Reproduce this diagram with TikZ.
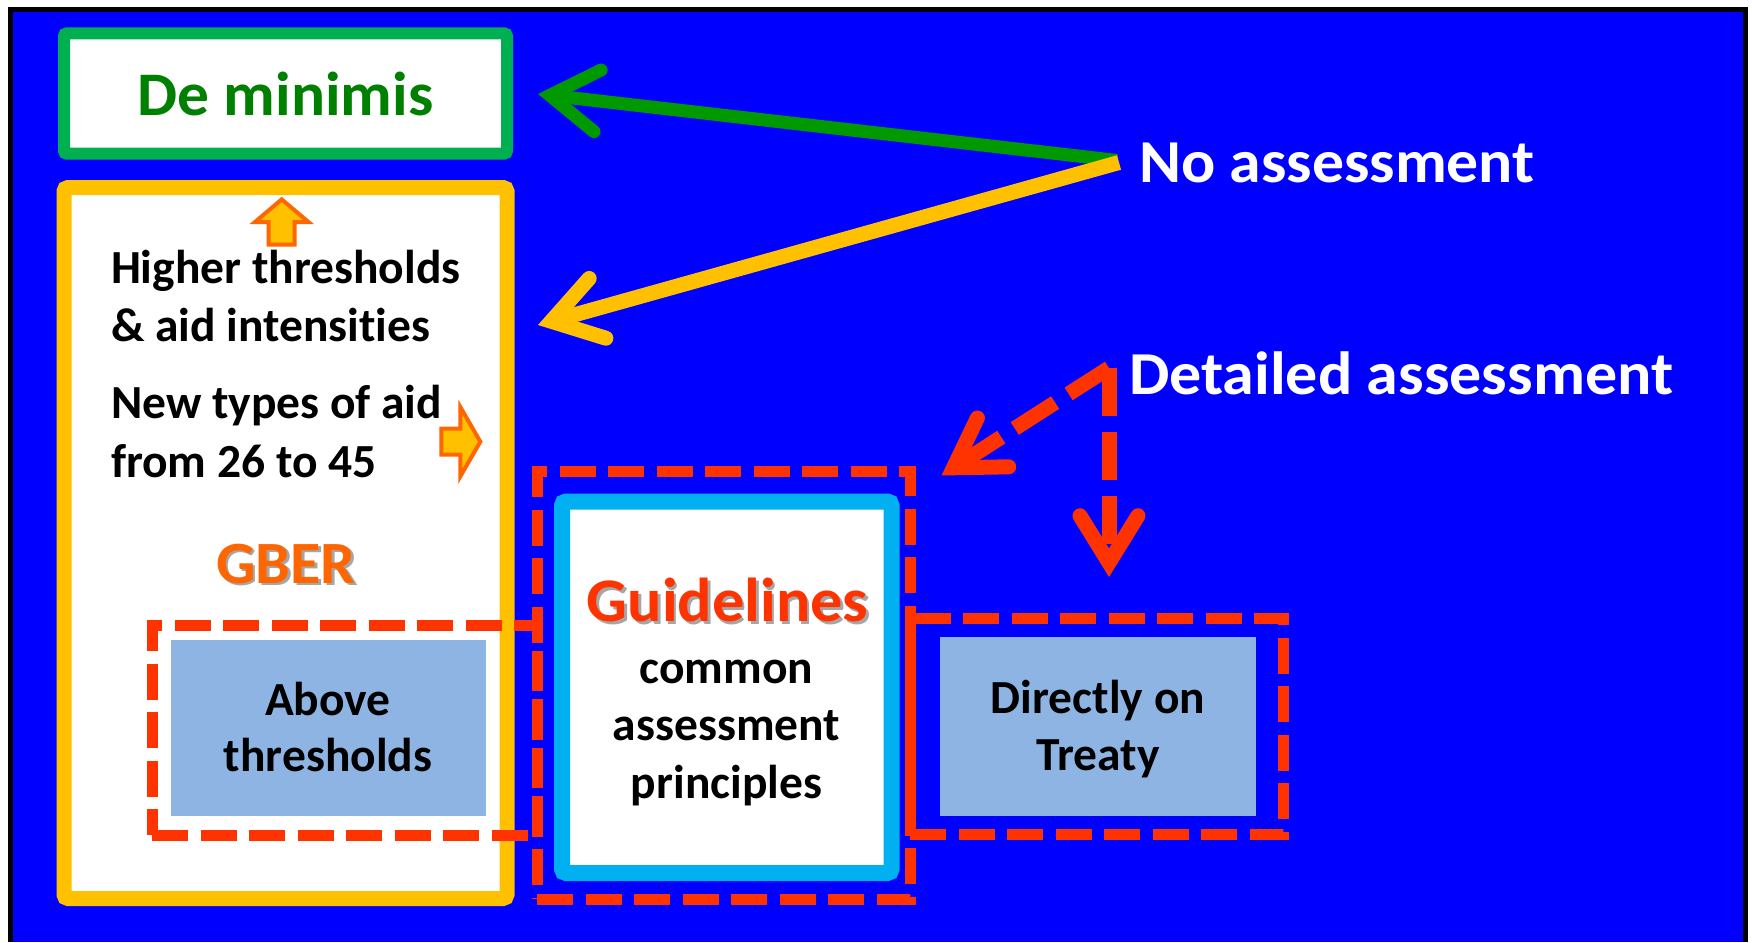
\documentclass[tikz,border=0pt]{standalone}
\usepackage{fontspec}
\setmainfont{Carlito}[Ligatures=NoCommon]
\usetikzlibrary{arrows.meta}
\definecolor{bgblue}{HTML}{0000FF}
\definecolor{dmgreen}{HTML}{00B050}
\definecolor{dmtext}{HTML}{008000}
\definecolor{arrgreen}{HTML}{009900}
\definecolor{gold}{HTML}{FFC000}
\definecolor{orng}{HTML}{FF6600}
\definecolor{redd}{HTML}{FF3300}
\definecolor{cyanb}{HTML}{00B0F0}
\definecolor{lblue}{HTML}{8EB4E3}
\newfontfamily\wideA{Carlito}[Ligatures=NoCommon,FakeStretch=1.025]
\newfontfamily\wideB{Carlito}[Ligatures=NoCommon,FakeStretch=1.035]
\newfontfamily\wideC{Carlito}[Ligatures=NoCommon,FakeStretch=1.045]
\newfontfamily\wideD{Carlito}[Ligatures=NoCommon,FakeStretch=1.05]
\begin{document}
\begin{tikzpicture}[x=1pt,y=-1pt,
  every node/.style={inner sep=0pt,outer sep=0pt},
  body/.style={font=\bfseries\fontsize{47.5}{57}\selectfont,text=black},
  dashbox/.style={draw=redd,line width=11pt,dash pattern=on 36pt off 12.5pt},
  lightbox/.style={fill=lblue},
  blockarrow/.style={fill=gold,draw=orng,line width=4pt,line join=miter},
  barb/.style={-{Straight Barb[length=48pt,width=62pt,line cap=round,line join=miter]}},
  redbarb/.style={-{Straight Barb[length=47pt,width=58pt,line cap=round,line join=miter]}},
  shadowtext/.style={text=black,opacity=0.35},
]
\useasboundingbox (0,0) rectangle (1752,942);
\fill[white] (0,0) rectangle (1752,942);
\fill[bgblue] (10.5,9.5) rectangle (1745.5,942);
\draw[line width=5pt,line join=miter] (10.5,942) -- (10.5,9.5) -- (1745.5,9.5) -- (1745.5,942);

\node[draw=dmgreen,line width=12pt,fill=white,rounded corners=3pt,minimum width=443pt,minimum height=120.4pt,font=\wideA\bfseries\fontsize{62}{70}\selectfont,text=dmtext] (dm) at (285.5,93.5) {De minimis};

\node[draw=gold,line width=15pt,fill=white,rounded corners=4pt,minimum width=443pt,minimum height=711pt] (gber) at (285.5,543) {};

\draw[blockarrow] (268.7,244.7) -- (268.7,222) -- (255,222) -- (281.7,199.4) -- (308.4,222) -- (294.7,222) -- (294.7,244.7) -- cycle;
\draw[blockarrow] (441.3,428.7) -- (460.3,428.7) -- (460.3,407) -- (480.3,441.7) -- (460.3,476.4) -- (460.3,454.7) -- (441.3,454.7) -- cycle;

\node[body,anchor=base west] (l1) at (111,283) {Higher thresholds};
\node[body,anchor=base west] (l2) at (111,341) {\& aid intensities};
\node[body,anchor=base west] (l3) at (111,418) {New types of aid};
\node[body,anchor=base west] (l4) at (111,477) {from 26 to 45};

\node[font=\wideB\bfseries\fontsize{60}{70}\selectfont,shadowtext,anchor=base] (gbersh) at (288.5,585.5) {GBER};
\node[font=\wideB\bfseries\fontsize{60}{70}\selectfont,text=orng,anchor=base] (gbertxt) at (286,583) {GBER};

\node[lightbox,minimum width=315.5pt,minimum height=175.7pt] (abv) at (328.25,727.85) {};
\node[dashbox,minimum width=385pt,minimum height=210pt] (abvd) at (344.5,730) {};
\node[body,anchor=base] (abv1) at (328,715) {Above};
\node[body,anchor=base] (abv2) at (328,771.7) {thresholds};

\node[dashbox,minimum width=373pt,minimum height=428pt] (gld) at (723.5,685) {};
\node[draw=cyanb,line width=16pt,fill=white,rounded corners=4pt,minimum width=329.5pt,minimum height=371.5pt] (gl) at (726.75,687.25) {};
\node[font=\wideB\bfseries\fontsize{62}{70}\selectfont,shadowtext,anchor=base] (glsh) at (730,624.2) {Guidelines};
\node[font=\wideB\bfseries\fontsize{62}{70}\selectfont,text=redd,anchor=base] (gltxt) at (727.5,621.7) {Guidelines};
\node[body,anchor=base] (gl1) at (726.5,683) {common};
\node[body,anchor=base] (gl2) at (726.5,740) {assessment};
\node[body,anchor=base] (gl3) at (726.5,798) {principles};

\node[dashbox,minimum width=373pt,minimum height=216pt] (dtd) at (1096.5,726) {};
\node[lightbox,minimum width=316pt,minimum height=179pt] (dt) at (1098,726.2) {};
\node[body,anchor=base] (dt1) at (1098,713) {Directly on};
\node[body,anchor=base] (dt2) at (1098,770) {Treaty};

\node[font=\wideC\bfseries\fontsize{61}{70}\selectfont,text=white,anchor=base west] (noas) at (1139,182.7) {No assessment};
\node[font=\wideD\bfseries\fontsize{61}{70}\selectfont,text=white,anchor=base west] (detas) at (1129,394) {Detailed assessment};

\coordinate (noA) at (1117,160.5);
\coordinate (noB) at (1119,162.5);
\coordinate (dmTip) at (538,94);
\coordinate (gbTip) at (538,325);
\coordinate (detA) at (1109,368);
\coordinate (glTip) at (941.5,475.5);
\coordinate (dtTip) at (1109,577);
\draw[arrgreen,line width=13pt,barb] (noA) -- (dmTip);
\draw[gold,line width=15pt,barb] (noB) -- (gbTip);
\draw[redd,line width=15pt,redbarb,dash pattern=on 48pt off 16pt] (detA) -- (glTip);
\draw[redd,line width=15pt,redbarb,dash pattern=on 48pt off 16pt] (detA) -- (dtTip);
\end{tikzpicture}
\end{document}
